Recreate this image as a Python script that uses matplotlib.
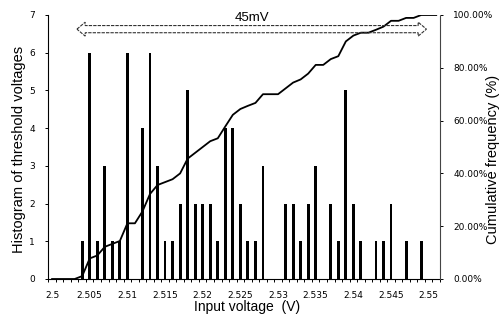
import matplotlib
matplotlib.use("Agg")
import matplotlib.pyplot as plt
from matplotlib.patches import Polygon
from matplotlib.ticker import FixedLocator

# ---- data ----
voltages = [round(2.500 + 0.001 * i, 3) for i in range(52)]  # category axis 2.500 .. 2.551
counts = [0, 0, 0, 0, 1, 6, 1, 3, 1, 1,
          6, 0, 4, 6, 3, 1, 1, 2, 5, 2,
          2, 2, 1, 4, 4, 2, 1, 1, 3, 0,
          0, 2, 2, 1, 2, 3, 0, 2, 1, 5,
          2, 1, 0, 1, 1, 2, 0, 1, 0, 1,
          0, 0]
cumulative_pct = [0, 0, 0, 0, 1.1, 7.8, 8.9, 12.2, 13.3, 14.4,
                  21.1, 21.1, 25.6, 32.2, 35.6, 36.7, 37.8, 40.0, 45.6, 47.8,
                  50.0, 52.2, 53.3, 57.8, 62.2, 64.4, 65.6, 66.7, 70.0, 70.0,
                  70.0, 72.2, 74.4, 75.6, 77.8, 81.1, 81.1, 83.3, 84.4, 90.0,
                  92.2, 93.3, 93.3, 94.4, 95.6, 97.8, 97.8, 98.9, 98.9, 100.0,
                  100.0, 100.0]
x_tick_values = [2.5, 2.505, 2.51, 2.515, 2.52, 2.525, 2.53, 2.535, 2.54, 2.545, 2.55]
x_tick_labels = ["2.5", "2.505", "2.51", "2.515", "2.52", "2.525", "2.53", "2.535", "2.54", "2.545", "2.55"]
y_ticks = [0, 1, 2, 3, 4, 5, 6, 7]
pct_ticks = [0, 20, 40, 60, 80, 100]
pct_labels = ["0.00%", "20.00%", "40.00%", "60.00%", "80.00%", "100.00%"]
span_start, span_end = 2.504, 2.549
span_label = "45mV"

W, H = 501, 321
fig = plt.figure(figsize=(W / 100, H / 100), dpi=100)
left, right, bottom, top = 48.3 / W, 440 / W, 1 - 279 / H, 1 - 15 / H
ax = fig.add_axes([left, bottom, right - left, top - bottom])
axw, axh = (right - left) * W, (top - bottom) * H

ax.bar(voltages, counts, width=0.00038, color="black", zorder=2)
ax.set_xlim(2.4995, 2.5515)
ax.set_ylim(0, 7)

ax2 = ax.twinx()
ax2.plot(voltages, cumulative_pct, color="black", lw=1.3, zorder=3)
ax2.set_ylim(0, 100)

tick_font = dict(family="DejaVu Sans", size=6.5)

ax.xaxis.set_major_locator(FixedLocator(x_tick_values))
ax.set_xticklabels(x_tick_labels, **tick_font)
ax.xaxis.set_minor_locator(FixedLocator([2.4995 + 0.001 * k for k in range(53)]))
ax.tick_params(axis="x", which="major", length=0, pad=9)
ax.tick_params(axis="x", which="minor", length=2.5, direction="out", width=0.7)

ax.set_yticks(y_ticks)
ax.set_yticklabels([str(v) for v in y_ticks], **tick_font)
ax.tick_params(axis="y", length=2.5, width=0.7, pad=7)

ax2.set_yticks(pct_ticks)
ax2.set_yticklabels(pct_labels, **tick_font)
ax2.tick_params(axis="y", length=2.5, width=0.7, pad=7)

for a in (ax, ax2):
    a.spines["top"].set_visible(False)
ax.spines["right"].set_visible(False)
ax2.spines["left"].set_visible(False)
ax2.spines["bottom"].set_visible(False)
ax.spines["left"].set_linewidth(0.8)
ax.spines["bottom"].set_linewidth(0.8)
ax2.spines["right"].set_color("#444444")
ax2.spines["right"].set_linestyle((0, (1, 1)))
ax2.spines["right"].set_linewidth(0.8)

label_font = dict(family="Liberation Sans", size=10.5)
ax.set_xlabel("Input voltage  (V)", family="Liberation Sans", size=10)
ax.xaxis.set_label_coords(0.5 + 3 / axw, (279 - 307) / axh)
ax.set_ylabel("Histogram of threshold voltages", **label_font)
ax.yaxis.set_label_coords((19 - 48.3) / axw, (279 - 149) / axh)
ax2.set_ylabel("Cumulative frequency (%)", **label_font)
ax2.yaxis.set_label_coords((493 - 48.3) / axw, (279 - 159) / axh)
for lab in (ax.xaxis.label, ax.yaxis.label, ax2.yaxis.label):
    lab.set_va("center")
    lab.set_ha("center")

# hollow double-headed span arrow
hl = 0.0011
y_s0, y_s1 = 6.53, 6.72
y_h0, y_h1 = 6.44, 6.81
ym = (y_s0 + y_s1) / 2
a0, a1 = span_start - 0.0007, span_end + 0.0007
pts = [
    (a0, ym), (a0 + hl, y_h1), (a0 + hl, y_s1), (a1 - hl, y_s1), (a1 - hl, y_h1),
    (a1, ym), (a1 - hl, y_h0), (a1 - hl, y_s0), (a0 + hl, y_s0), (a0 + hl, y_h0),
]
ax2.add_patch(Polygon([(x, y / 7 * 100) for x, y in pts], closed=True,
                      facecolor="none", edgecolor="#333333",
                      lw=0.8, linestyle=(0, (3, 1)), zorder=4, clip_on=False))
ax.text((span_start + span_end) / 2 + 0.0001, 6.93, span_label, ha="center", va="center",
        family="Liberation Sans", size=9.5, clip_on=False)

fig.savefig("out.png", dpi=100)
